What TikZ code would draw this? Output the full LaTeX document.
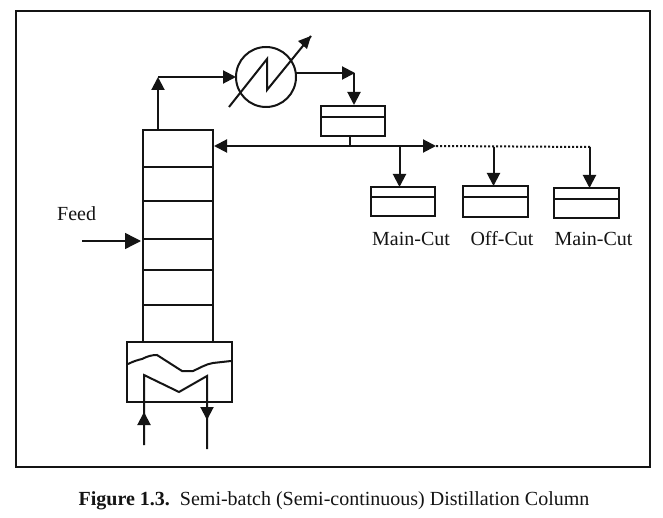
\documentclass[tikz,border=0pt]{standalone}
\usepackage{fontspec}
\setmainfont{Liberation Serif}
\usetikzlibrary{arrows.meta}
\definecolor{ink}{HTML}{141414}
\tikzset{
  unit/.style={draw=ink,line width=2pt,inner sep=0pt,outer sep=0pt,rectangle},
  flow/.style={draw=ink,line width=2pt,-{Triangle[length=13pt,width=13pt]}},
  pipe/.style={draw=ink,line width=2pt},
  tray/.style={draw=ink,line width=2pt},
  label text/.style={text=ink,font=\fontsize{20}{23}\selectfont,inner sep=0pt,anchor=base},
}
\begin{document}
\begin{tikzpicture}[x=1pt,y=-1pt]
\useasboundingbox (0,0) rectangle (663,518);
\fill[white] (0,0) rectangle (663,518);
% frame
\node[unit,minimum width=634pt,minimum height=456pt,anchor=north west] (frame) at (16,11) {};
% column
\node[unit,minimum width=70pt,minimum height=212pt,anchor=north west] (column) at (143,130) {};
\foreach \n/\yy in {a/167,b/201,c/239,d/270,e/305}{
  \coordinate (l\n) at (143,\yy);
  \coordinate (r\n) at (213,\yy);
  \draw[tray] (l\n) -- (r\n);
}
% reboiler
\node[unit,fill=white,minimum width=105pt,minimum height=60pt,anchor=north west] (reboiler) at (127,342) {};
\draw[tray] (128,364) .. controls (134,361) and (138,360) .. (142,359)
  .. controls (148,356) and (152,355) .. (157,355)
  -- (182,371) -- (193,371) .. controls (200,368) and (206,364) .. (213,363) -- (231,361);
\coordinate (coilIn) at (144,445);
\coordinate (coilTopL) at (144,375);
\coordinate (coilMid) at (179,392);
\coordinate (coilTopR) at (207,376);
\coordinate (coilOut) at (207,449);
\coordinate (coilArrowIn) at (144,412);
\coordinate (coilArrowOut) at (207,420);
\draw[pipe] (coilIn) -- (coilTopL) -- (coilMid) -- (coilTopR) -- (coilOut);
\draw[flow] (coilIn) -- (coilArrowIn);
\draw[flow] (coilTopR) -- (coilArrowOut);
% condenser
\node[draw=ink,line width=2pt,circle,minimum size=60pt,inner sep=0pt,outer sep=0pt] (cond) at (266,77) {};
\coordinate (cA) at (229,107);
\coordinate (cB) at (267,59);
\coordinate (cC) at (267,90);
\coordinate (cD) at (311,36);
\draw[pipe,line join=miter] (cA) -- (cB) -- (cC) -- (cD);
\fill[ink] (cD) -- (298,41) -- (307,49) -- cycle;
% overhead
\coordinate (topOut) at (158,130);
\coordinate (corner) at (158,77);
\draw[flow] (topOut) -- (corner);
\draw[flow] (corner) -- (cond.west);
\coordinate (cond2) at (296,73);
\coordinate (cond3) at (355,73);
\draw[flow] (cond2) -- (cond3);
% receiver
\node[unit,minimum width=64pt,minimum height=30pt,anchor=north west] (receiver) at (321,106) {};
\draw[tray] (321,117) -- (385,117);
\coordinate (recIn) at (354,105);
\draw[flow] (354,73) -- (recIn);
% reflux line
\coordinate (stem) at (350,146);
\coordinate (split) at (436,146);
\draw[pipe] (350,136) -- (stem);
\draw[flow] (stem) -- (214,146);
\draw[flow] (stem) -- (split);
\draw[draw=ink,line width=2pt,dotted] (split) -- (590,147);
% products
\node[unit,minimum width=64pt,minimum height=29pt,anchor=north west] (p1) at (371,187) {};
\draw[tray] (371,197) -- (435,197);
\node[unit,minimum width=65pt,minimum height=31pt,anchor=north west] (p2) at (463,186) {};
\draw[tray] (463,197) -- (528,197);
\node[unit,minimum width=65pt,minimum height=30pt,anchor=north west] (p3) at (554,188) {};
\draw[tray] (554,199) -- (619,199);
\draw[flow] (399.5,146) -- (399.5,187);
\draw[flow] (493.5,147) -- (493.5,186);
\draw[flow] (589.5,147) -- (589.5,188);
% labels
\node[label text] (m1) at (411,246) {Main-Cut};
\node[label text] (m2) at (502,246) {Off-Cut};
\node[label text] (m3) at (593.5,246) {Main-Cut};
\node[label text,anchor=base west] (feedl) at (57,221) {Feed};
% feed arrow
\coordinate (feedS) at (82,241);
\draw[draw=ink,line width=1.4pt,-{Triangle[length=16pt,width=16pt]}] (feedS) -- (141,241);
% caption
\node[text=ink,inner sep=0pt,anchor=base,font=\fontsize{20}{23}\selectfont] (cap) at (334,505) {\textbf{Figure 1.3.}\ \ Semi-batch (Semi-continuous) Distillation Column};
\end{tikzpicture}
\end{document}
